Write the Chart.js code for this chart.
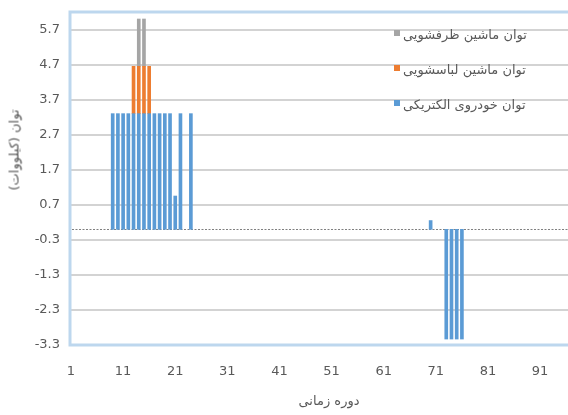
<!DOCTYPE html>
<html>
<head>
<meta charset="utf-8">
<script src="https://cdn.jsdelivr.net/npm/chart.js@4/dist/chart.umd.min.js"></script>
<style>
    body { margin: 0; background: #fff; }
    #wrap { position: relative; width: 568px; height: 415px; overflow: hidden; }
    #yTitle {
        position: absolute; left: 13.5px; top: 150px;
        transform: translate(-50%, -50%) rotate(-90deg);
        white-space: nowrap; font: 13px "DejaVu Sans"; color: #595959;
    }
    #legend { position: absolute; left: 394px; top: 17px; font: 13px "DejaVu Sans"; color: #595959; }
    #legend .item { display: flex; align-items: center; height: 35px; }
    #legend .box { width: 6px; height: 6px; margin-right: 3px; margin-top: -4px; }
</style>
</head>
<body>
<div id="wrap">
    <canvas id="powerChart" width="592" height="415"></canvas>
    <div id="yTitle">توان (کیلووات)</div>
    <div id="legend"></div>
</div>
<script>
// Time periods 1..100 on the category axis, labelled every 10th
const periods = Array.from({ length: 100 }, (_, i) => String(i + 1));
const xTickLabels = ['1', '11', '21', '31', '41', '51', '61', '71', '81', '91'];
const yTicks = [-3.3, -2.3, -1.3, -0.3, 0.7, 1.7, 2.7, 3.7, 4.7, 5.7];

// Electric vehicle charging / discharging (kW)
const evPeriods = [9, 10, 11, 12, 13, 14, 15, 16, 17, 18, 19, 20, 21, 22, 24, 70, 73, 74, 75, 76];
const evPower = [3.3, 3.3, 3.3, 3.3, 3.3, 3.3, 3.3, 3.3, 3.3, 3.3, 3.3, 3.3, 0.95, 3.3, 3.3, 0.25, -3.13, -3.13, -3.13, -3.13];

// Washing machine (kW)
const washerPeriods = [13, 14, 15, 16];
const washerPower = [1.35, 1.35, 1.35, 1.35];

// Dishwasher (kW)
const dishPeriods = [14, 15];
const dishPower = [1.35, 1.35];

const seriesNames = ['توان خودروی الکتریکی', 'توان ماشین لباسشویی', 'توان ماشین ظرفشویی'];
const seriesColors = ['#5B9BD5', '#ED7D31', '#A5A5A5'];

function toPoints(xs, ys) {
    return xs.map((p, i) => ({ x: String(p), y: ys[i] }));
}

// zero line and light blue plot frame (left, top, bottom)
const plotDecor = {
    id: 'plotDecor',
    beforeDatasetsDraw(chart) {
        const { ctx, chartArea: a, scales } = chart;
        ctx.save();
        ctx.strokeStyle = '#BDD7EE';
        ctx.lineWidth = 3;
        ctx.beginPath();
        ctx.moveTo(a.right + 5, a.top);
        ctx.lineTo(a.left - 1, a.top);
        ctx.lineTo(a.left - 1, a.bottom);
        ctx.lineTo(a.right + 5, a.bottom);
        ctx.stroke();
        const y0 = Math.round(scales.y.getPixelForValue(0)) + 0.5;
        ctx.strokeStyle = '#7F7F7F';
        ctx.lineWidth = 1;
        ctx.setLineDash([2, 1.5]);
        ctx.beginPath();
        ctx.moveTo(a.left + 1, y0);
        ctx.lineTo(a.right, y0);
        ctx.stroke();
        ctx.restore();
    }
};

// keep the plot area where the frame belongs
function noEdgePadding(scale) {
    scale.paddingTop = 0;
    scale.paddingBottom = 0;
    scale.paddingLeft = 0;
    scale.paddingRight = 0;
}

const ctx = document.getElementById('powerChart').getContext('2d');
const chart = new Chart(ctx, {
    type: 'bar',
    data: {
        labels: periods,
        datasets: [
            { label: seriesNames[0], data: toPoints(evPeriods, evPower), backgroundColor: seriesColors[0] },
            { label: seriesNames[1], data: toPoints(washerPeriods, washerPower), backgroundColor: seriesColors[1] },
            { label: seriesNames[2], data: toPoints(dishPeriods, dishPower), backgroundColor: seriesColors[2] }
        ]
    },
    options: {
        responsive: false,
        animation: false,
        datasets: {
            bar: { barThickness: 3 }
        },
        layout: { padding: { top: 12, right: 5, left: 0, bottom: 0 } },
        plugins: {
            legend: { display: false },
            tooltip: { enabled: false }
        },
        scales: {
            x: {
                stacked: true,
                offset: false,
                grid: { display: false },
                border: { display: false },
                ticks: {
                    autoSkip: false,
                    maxRotation: 0,
                    padding: 11,
                    color: '#595959',
                    font: { family: 'DejaVu Sans', size: 13 },
                    callback: function(value) {
                        const label = this.getLabelForValue(value);
                        return xTickLabels.includes(label) ? label : '';
                    }
                },
                title: {
                    display: true,
                    text: 'دوره زمانی',
                    color: '#595959',
                    font: { family: 'DejaVu Sans', size: 13 },
                    padding: { top: 0, bottom: 5.5 }
                },
                afterFit: scale => { scale.height = 70; noEdgePadding(scale); }
            },
            y: {
                stacked: true,
                min: -3.3,
                max: 6.2,
                grid: { color: '#D3D3D3', lineWidth: 2, drawTicks: false },
                border: { display: false },
                ticks: {
                    padding: 11,
                    color: '#595959',
                    font: { family: 'DejaVu Sans', size: 13 },
                    callback: value => value.toFixed(1)
                },
                afterBuildTicks: scale => { scale.ticks = yTicks.map(v => ({ value: v })); },
                afterFit: scale => { scale.width = 71; noEdgePadding(scale); }
            }
        }
    },
    plugins: [plotDecor]
});

// Legend drawn as HTML, top item is the last stacked series
const legendEl = document.getElementById('legend');
chart.data.datasets.slice().reverse().forEach(ds => {
    const item = document.createElement('div');
    item.className = 'item';
    const box = document.createElement('span');
    box.className = 'box';
    box.style.background = ds.backgroundColor;
    const text = document.createElement('span');
    text.dir = 'rtl';
    text.textContent = ds.label;
    item.appendChild(box);
    item.appendChild(text);
    legendEl.appendChild(item);
});
</script>
</body>
</html>
